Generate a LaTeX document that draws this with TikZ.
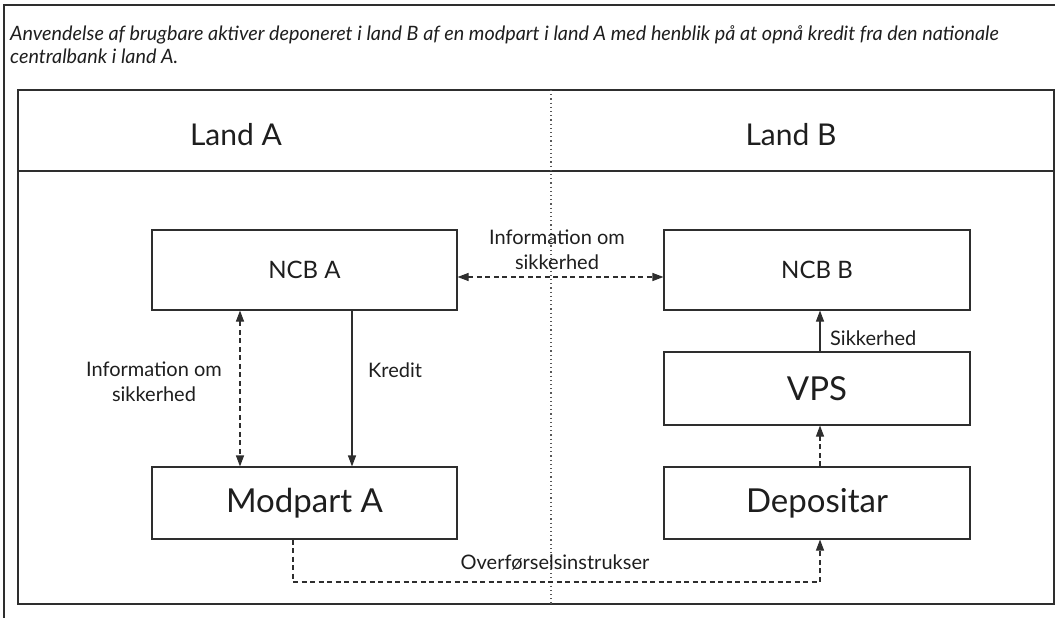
\documentclass[tikz,border=0pt]{standalone}
\usepackage{fontspec}
\setmainfont{Lato}
\usetikzlibrary{arrows.meta}
\definecolor{ln}{HTML}{2E2E2E}
\definecolor{tx}{HTML}{1E1E1E}
\begin{document}
\begin{tikzpicture}[x=1pt,y=-1pt,
  frame/.style={draw=ln,line width=1.1pt},
  box/.style={draw=ln,line width=1.1pt,inner sep=0pt,text=tx},
  small/.style={font=\fontsize{24}{28}\selectfont},
  big/.style={font=\fontsize{33}{38}\selectfont},
  lbl/.style={text=tx,inner sep=0pt,align=center,font=\fontsize{20}{25}\selectfont},
  conn/.style={draw=ln,line width=1.1pt,-{Triangle[length=11pt,width=8pt]}},
  dconn/.style={conn,dash pattern=on 5pt off 3.5pt},
  ddconn/.style={dconn,{Triangle[length=11pt,width=8pt]}-{Triangle[length=11pt,width=8pt]}}
]
\useasboundingbox (0,0) rectangle (1055,618);
\draw[frame] (4,618) -- (4,5) -- (1055,5);
\node[anchor=north west,inner sep=0pt,text=tx,align=left,font=\fontsize{19.8}{23}\selectfont\itshape] (cap) at (10,25)
  {Anvendelse af brugbare aktiver deponeret i land B af en modpart i land A med henblik på at opnå kredit fra den nationale\\centralbank i land A.};
\draw[frame] (18,90) rectangle (1054,604);
\draw[frame] (18,171) -- (1054,171);
\draw[draw=ln!80,line width=1.1pt,dash pattern=on 1.2pt off 3pt] (551,90) -- (551,604);
\node[text=tx,inner sep=0pt,font=\fontsize{30}{34}\selectfont] (landA) at (236,135) {Land A};
\node[text=tx,inner sep=0pt,font=\fontsize{30}{34}\selectfont] (landB) at (791,135) {Land B};
\node[box,small,minimum width=305pt,minimum height=80pt] (ncba) at (304.5,270) {NCB A};
\node[box,small,minimum width=306pt,minimum height=80pt] (ncbb) at (817,270) {NCB B};
\node[box,big,minimum width=306pt,minimum height=73pt] (vps) at (817,388.5) {VPS};
\node[box,big,minimum width=306pt,minimum height=72pt] (dep) at (817,503) {Depositar};
\node[box,big,minimum width=305pt,minimum height=72pt] (moda) at (304.5,503) {Modpart A};
\draw[ddconn] ([yshift=-7pt]ncba.east) -- ([yshift=-7pt]ncbb.west);
\node[lbl] (l1) at (557,250) {Information om\\sikkerhed};
\draw[ddconn] ([xshift=-64.5pt]ncba.south) -- ([xshift=-64.5pt]moda.north);
\node[lbl] (l2) at (154,382) {Information om\\sikkerhed};
\draw[conn] ([xshift=47.5pt]ncba.south) -- ([xshift=47.5pt]moda.north);
\node[lbl,anchor=west] (l3) at (368,370) {Kredit};
\draw[conn] ([xshift=3pt]vps.north) -- ([xshift=3pt]ncbb.south);
\node[lbl,anchor=west] (l4) at (830,338) {Sikkerhed};
\draw[dconn] ([xshift=3pt]dep.north) -- ([xshift=3pt]vps.south);
\coordinate (c2) at (820,582);
\draw[dconn] ([xshift=-11.5pt]moda.south) |- (c2) -- ([xshift=3pt]dep.south);
\node[lbl] (l5) at (555,563) {Overførselsinstrukser};
\end{tikzpicture}
\end{document}
